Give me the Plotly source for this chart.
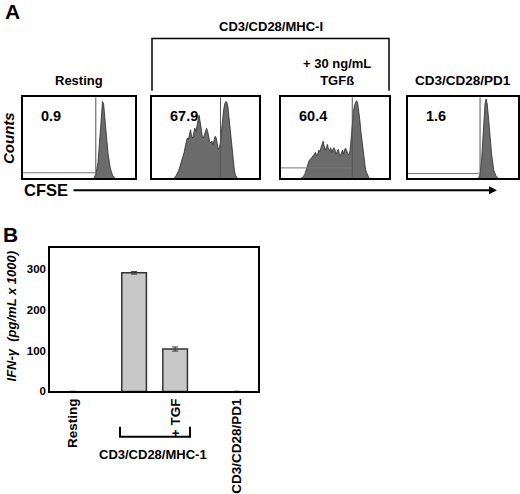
import plotly.graph_objects as go

W, H = 520, 494
FONT = "Liberation Sans, Arial, sans-serif"

# ---- panel A: CFSE histograms (x = CFSE, % of axis; y = counts, % of max) ----
resting_x = [63, 65, 67, 69, 70, 71, 72, 73, 74, 76, 78, 80, 82]
resting_y = [0, 5, 20, 55, 80, 95, 92, 80, 60, 30, 12, 4, 0]

mhc_x = [20, 22, 25, 28, 30, 32, 33, 34, 35, 36, 37, 38, 39, 40, 41, 42, 43, 44, 45, 46,
         47, 48, 49, 50, 51, 52, 53, 54, 55, 56, 57, 58, 59, 60, 61, 62, 63, 64, 65, 66,
         67, 68, 69, 70, 71, 72, 73, 74, 75, 76, 77, 78, 79, 80]
mhc_y = [0, 2, 10, 22, 32, 45, 50, 48, 55, 60, 52, 50, 56, 62, 58, 65, 72, 78, 70, 60,
         52, 50, 55, 58, 62, 58, 48, 45, 44, 46, 42, 48, 52, 50, 40, 36, 38, 45, 60, 75,
         85, 92, 95, 94, 88, 75, 60, 45, 30, 18, 10, 4, 1, 0]

tgf_x = [18, 20, 22, 24, 26, 28, 30, 32, 33, 34, 35, 36, 37, 38, 39, 40, 41, 42, 43, 44,
         45, 46, 47, 48, 49, 50, 51, 52, 53, 54, 55, 56, 57, 58, 59, 60, 61, 62, 63, 64,
         65, 66, 67, 68, 69, 70, 71, 72, 73, 74, 75, 76, 77, 78, 79, 80, 81, 82]
tgf_y = [0, 1, 5, 15, 22, 25, 28, 32, 28, 30, 35, 33, 38, 42, 46, 40, 35, 38, 42, 36,
         34, 38, 32, 36, 38, 35, 30, 33, 36, 30, 28, 32, 35, 30, 36, 37, 32, 30, 29, 35,
         50, 68, 82, 90, 94, 96, 93, 85, 72, 58, 45, 32, 22, 14, 8, 4, 2, 0]

pd1_x = [64, 65.5, 67, 68, 69, 70, 71, 72, 73, 74, 76, 78, 80, 82]
pd1_y = [0, 5, 25, 50, 75, 92, 98, 92, 78, 58, 30, 10, 3, 0]

hist_x = [resting_x, mhc_x, tgf_x, pd1_x]
hist_y = [resting_y, mhc_y, tgf_y, pd1_y]
gate_x = [65, 64, 66, 65.5]          # vertical marker gate
gate_h = [7, None, 13, 6]            # horizontal marker bar height
pct_divided = ["0.9", "67.9", "60.4", "1.6"]
panel_titles = ["Resting", "", "+ 30 ng/mL<br>TGFß", "CD3/CD28/PD1"]

# ---- panel B: IFN-gamma ----
ifn_groups = [0, 1.5, 2.5, 4]        # group slots along the x axis
ifn_ticks = ["Resting", "", "+ TGF", "CD3/CD28/PD1"]
ifn_values = [0, 291, 104, 0]
ifn_err = [None, 3, 5, None]


def px(x):
    return x / W


def py(y):
    return 1 - y / H


def note(x, y, text, size=13, xanchor="center", **kw):
    fig.add_annotation(x=px(x), y=py(y), xref="paper", yref="paper", text=text,
                       showarrow=False, xanchor=xanchor, yanchor="middle",
                       font=dict(family=FONT, size=size, color="black", weight="bold"), **kw)


fig = go.Figure()

# pixel boxes of the four histogram frames
boxes = [(23, 135), (152, 259), (281, 389), (408, 518)]
box_top, box_bot = 98, 181

for i in range(4):
    n = i + 1
    fig.add_trace(go.Scatter(
        x=hist_x[i], y=hist_y[i], mode="lines", fill="tozeroy",
        fillcolor="#6b6b6b", line=dict(color="#2a2a2a", width=0.8),
        xaxis=f"x{n}", yaxis=f"y{n}", hoverinfo="skip"))
    fig.add_trace(go.Scatter(
        x=[gate_x[i], gate_x[i]], y=[0, 100], mode="lines",
        line=dict(color="#555555", width=1), xaxis=f"x{n}", yaxis=f"y{n}"))
    if gate_h[i] is not None:
        fig.add_trace(go.Scatter(
            x=[0, gate_x[i]], y=[gate_h[i], gate_h[i]], mode="lines",
            line=dict(color="#777777", width=1), xaxis=f"x{n}", yaxis=f"y{n}"))
    ax = dict(domain=[px(boxes[i][0]), px(boxes[i][1])], range=[0, 100],
              showticklabels=False, showgrid=False, zeroline=False, ticks="",
              showline=True, mirror=True, linecolor="black", linewidth=1.5,
              anchor=f"y{n}")
    ay = dict(domain=[py(box_bot), py(box_top)], range=[0, 101],
              showticklabels=False, showgrid=False, zeroline=False, ticks="",
              showline=True, mirror=True, linecolor="black", linewidth=1.5,
              anchor=f"x{n}")
    fig.update_layout({f"xaxis{n}": ax, f"yaxis{n}": ay})

    cx = (boxes[i][0] + boxes[i][1]) / 2
    if panel_titles[i]:
        note(cx + (2 if i == 2 else 0), 82 if i != 2 else 73, panel_titles[i],
             size=13.5 if i == 3 else 13)
    note(boxes[i][0] + 16, 118, pct_divided[i], size=14.5, xanchor="left")

# bar chart
fig.add_trace(go.Bar(
    x=ifn_groups, y=ifn_values, width=0.6,
    marker=dict(color="#c8c8c8",
                line=dict(color="#333333", width=[1.5 if v else 0 for v in ifn_values])),
    error_y=dict(type="data", array=ifn_err, color="#333333", thickness=1, width=3),
    xaxis="x5", yaxis="y5"))

fig.update_layout(
    xaxis5=dict(domain=[px(50), px(258)], anchor="y5", range=[-0.55, 4.52],
                tickvals=ifn_groups, ticktext=ifn_ticks, tickangle=-90, ticks="",
                showline=True, mirror=True, linecolor="black", linewidth=1.5,
                showgrid=False, zeroline=False,
                tickfont=dict(family=FONT, size=13.5, color="black", weight="bold")),
    yaxis5=dict(domain=[py(397), py(252)], anchor="x5", range=[0, 351],
                tickvals=[0, 100, 200, 300], ticks="",
                showline=True, mirror=True, linecolor="black", linewidth=1.5,
                showgrid=False, zeroline=False,
                tickfont=dict(family=FONT, size=11.5, color="black", weight="bold")),
)

# panel letters
note(12, 12, "A", size=21)
note(10, 238, "B", size=21)

# top bracket + label
fig.add_shape(type="path", xref="paper", yref="paper",
              path=f"M {px(152)},{py(92)} L {px(152)},{py(39)} L {px(389)},{py(39)} L {px(389)},{py(92)}",
              line=dict(color="black", width=1.5))
note(271, 27, "CD3/CD28/MHC-I")

# Counts / CFSE
note(8, 140, "<i>Counts</i>", size=15, textangle=-90)
note(46, 193, "CFSE", size=16.5)
fig.add_annotation(x=px(497), y=py(193), ax=72 - 497, ay=0, text="", showarrow=True,
                   arrowhead=2, arrowsize=0.8, arrowwidth=2, arrowcolor="black",
                   xref="paper", yref="paper")

# panel B y title
note(11, 321, "<i>IFN-γ  (pg/mL x 1000)</i>", size=13, textangle=-90)

# MHC bracket under bars
fig.add_shape(type="path", xref="paper", yref="paper",
              path=f"M {px(120)},{py(433)} L {px(120)},{py(443)} L {px(190)},{py(443)} L {px(190)},{py(433)}",
              line=dict(color="black", width=2))
note(153, 461, "CD3/CD28/MHC-1")

fig.update_layout(width=W, height=H, margin=dict(l=0, r=0, t=0, b=0),
                  plot_bgcolor="white", paper_bgcolor="white", showlegend=False)

fig.write_html("out.html", config={"displayModeBar": False},
               post_script="document.body.style.margin = '0';")
